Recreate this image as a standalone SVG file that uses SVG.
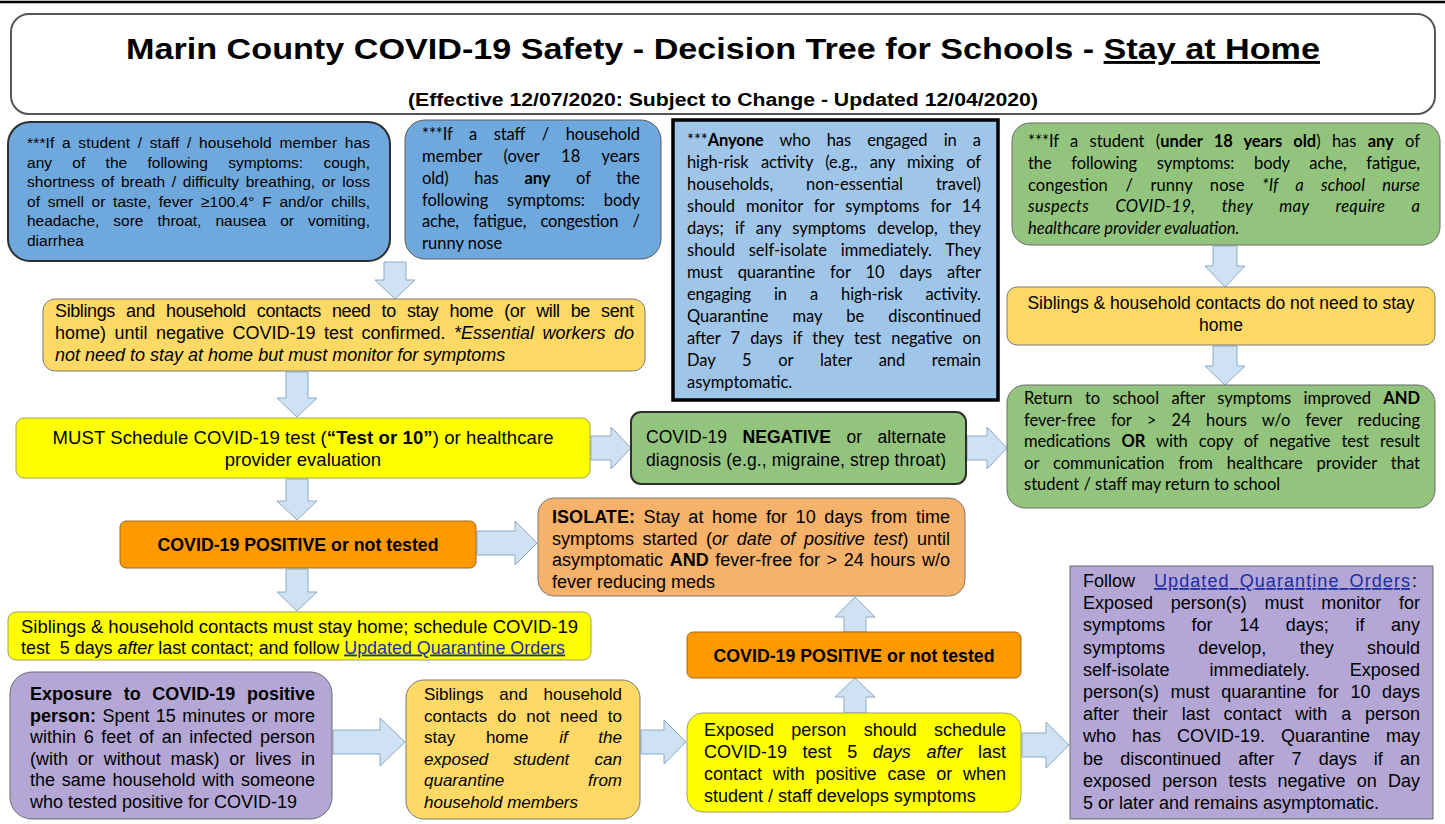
<svg xmlns="http://www.w3.org/2000/svg" width="1445" height="824" viewBox="0 0 1445 824">
<defs><style>
.s{font-family:"Liberation Sans",Arial,sans-serif;fill:#000}
.c{font-family:Lato,"Open Sans",sans-serif;fill:#000}
.b{font-weight:bold}
.i{font-style:italic}
.u{text-decoration:underline}
.lk{fill:#1d2ea5;text-decoration:underline}
.arr{fill:#cfe2f3;stroke:#8ea8c3;stroke-width:1}
</style></defs>
<rect width="1445" height="824" fill="#fff"/>
<line x1="0" y1="2" x2="1445" y2="2" stroke="#000" stroke-width="2.5"/>

<g id="title">
<rect x="11" y="14" width="1424" height="100" rx="18" fill="#fff" stroke="#555" stroke-width="2"/>
<text class="s b" x="723" y="59" font-size="29" text-anchor="middle" textLength="1194" lengthAdjust="spacingAndGlyphs">Marin County COVID-19 Safety - Decision Tree for Schools - <tspan class="u">Stay at Home</tspan></text>
<text class="s b" x="723" y="106" font-size="18" text-anchor="middle" textLength="630" lengthAdjust="spacingAndGlyphs">(Effective 12/07/2020: Subject to Change - Updated 12/04/2020)</text>
</g>

<g id="connectors">
<path class="arr" d="M384 262 H406 V280 H415 L395 299 L375 280 H384 Z"/>
<path class="arr" d="M286 372 H308 V398 H317 L297 417 L277 398 H286 Z"/>
<path class="arr" d="M286 479 H308 V501 H317 L297 520 L277 501 H286 Z"/>
<path class="arr" d="M286 569 H308 V592 H317 L297 611 L277 592 H286 Z"/>
<path class="arr" d="M1213 246 H1237 V266 H1245 L1225 287 L1205 266 H1213 Z"/>
<path class="arr" d="M1213 346 H1237 V366 H1245 L1225 385 L1205 366 H1213 Z"/>
<path class="arr" d="M591 436 H611 V427 L631 448 L611 469 V460 H591 Z"/>
<path class="arr" d="M967 436 H987 V427 L1007 448 L987 469 V460 H967 Z"/>
<path class="arr" d="M477 531 H515 V521 L537 543 L515 565 V555 H477 Z"/>
<path class="arr" d="M333 730 H380 V718 L405 742 L380 766 V754 H333 Z"/>
<path class="arr" d="M641 730 H664 V720 L686 742 L664 764 V754 H641 Z"/>
<path class="arr" d="M1022 733 H1046 V722 L1069 745 L1046 768 V757 H1022 Z"/>
<path class="arr" d="M844 632 V617 H835 L855 597 L875 617 H866 V632 Z"/>
<path class="arr" d="M844 713 V697 H835 L855 678 L875 697 H866 V713 Z"/>
</g>

<g id="n-symptoms-any">
<rect x="8" y="122" width="382" height="139" rx="22" fill="#6fa8dc" stroke="#2e2e2e" stroke-width="2"/>
<g class="s" font-size="15.5">
<text x="27" y="148" textLength="343" lengthAdjust="spacing" word-spacing="3">***If a student / staff / household member has</text>
<text x="27" y="167.6" textLength="343" lengthAdjust="spacing" word-spacing="16">any of the following symptoms: cough,</text>
<text x="27" y="187.2" textLength="343" lengthAdjust="spacing" word-spacing="2.2">shortness of breath / difficulty breathing, or loss</text>
<text x="27" y="206.8" textLength="343" lengthAdjust="spacing" word-spacing="3.4">of smell or taste, fever ≥100.4° F and/or chills,</text>
<text x="27" y="226.4" textLength="343" lengthAdjust="spacing" word-spacing="9.7">headache, sore throat, nausea or vomiting,</text>
<text x="27" y="246">diarrhea</text>
</g>
</g>

<g id="n-staff-symptoms">
<rect x="405" y="120" width="256" height="139" rx="20" fill="#6fa8dc" stroke="#5a5a5a" stroke-width="1"/>
<g class="c" font-size="16.5">
<text x="422" y="140" textLength="218" lengthAdjust="spacing" word-spacing="12.6">***If a staff / household</text>
<text x="422" y="162" textLength="218" lengthAdjust="spacing" word-spacing="17.2">member (over 18 years</text>
<text x="422" y="184" textLength="218" lengthAdjust="spacing" word-spacing="21.7">old) has <tspan class="b">any</tspan> of the</text>
<text x="422" y="205.5" textLength="218" lengthAdjust="spacing" word-spacing="14.7">following symptoms: body</text>
<text x="422" y="227" textLength="218" lengthAdjust="spacing" word-spacing="10.2">ache, fatigue, congestion /</text>
<text x="422" y="249">runny nose</text>
</g>
</g>

<g id="n-high-risk">
<rect x="673" y="120" width="325" height="280" fill="#9fc5e8" stroke="#000" stroke-width="3.5"/>
<g class="c" font-size="16.5">
<text x="687" y="145.5" textLength="294" lengthAdjust="spacing" word-spacing="12.1">***<tspan class="b">Anyone</tspan> who has engaged in a</text>
<text x="687" y="167.5" textLength="294" lengthAdjust="spacing" word-spacing="8.2">high-risk activity (e.g., any mixing of</text>
<text x="687" y="189.5" textLength="294" lengthAdjust="spacing" word-spacing="28.7">households, non-essential travel)</text>
<text x="687" y="211.5" textLength="294" lengthAdjust="spacing" word-spacing="6.8">should monitor for symptoms for 14</text>
<text x="687" y="233.5" textLength="294" lengthAdjust="spacing" word-spacing="7.3">days; if any symptoms develop, they</text>
<text x="687" y="255.5" textLength="294" lengthAdjust="spacing" word-spacing="9.5">should self-isolate immediately. They</text>
<text x="687" y="277.5" textLength="294" lengthAdjust="spacing" word-spacing="10.8">must quarantine for 10 days after</text>
<text x="687" y="299.5" textLength="294" lengthAdjust="spacing" word-spacing="19">engaging in a high-risk activity.</text>
<text x="687" y="321.5" textLength="294" lengthAdjust="spacing" word-spacing="19.9">Quarantine may be discontinued</text>
<text x="687" y="343.5" textLength="294" lengthAdjust="spacing" word-spacing="6.2">after 7 days if they test negative on</text>
<text x="687" y="365.5" textLength="294" lengthAdjust="spacing" word-spacing="22.5">Day 5 or later and remain</text>
<text x="687" y="387.5">asymptomatic.</text>
</g>
</g>

<g id="n-student-mild">
<rect x="1012" y="123" width="428" height="122" rx="18" fill="#93c47d" stroke="#6b6b6b" stroke-width="1"/>
<g class="c" font-size="16.5">
<text x="1028" y="147" textLength="392" lengthAdjust="spacing" word-spacing="7.2">***If a student (<tspan class="b">under 18 years old</tspan>) has <tspan class="b">any</tspan> of</text>
<text x="1028" y="169" textLength="392" lengthAdjust="spacing" word-spacing="15.6">the following symptoms: body ache, fatigue,</text>
<text x="1028" y="190.5" textLength="392" lengthAdjust="spacing" word-spacing="13.3">congestion / runny nose <tspan class="i">*If a school nurse</tspan></text>
<text class="c i" x="1028" y="212" textLength="392" lengthAdjust="spacing" word-spacing="22.2">suspects COVID-19, they may require a</text>
<text class="c i" x="1028" y="234">healthcare provider evaluation.</text>
</g>
</g>

<g id="n-siblings-no-stay">
<rect x="1007" y="287" width="428" height="58" rx="10" fill="#ffd966" stroke="#7a7a7a" stroke-width="1"/>
<text class="s" x="1221" y="308.5" font-size="17.5" text-anchor="middle">Siblings &amp; household contacts do not need to stay</text>
<text class="s" x="1221" y="330.5" font-size="17.5" text-anchor="middle">home</text>
</g>

<g id="n-return">
<rect x="1007" y="385" width="428" height="123" rx="18" fill="#93c47d" stroke="#6b6b6b" stroke-width="1"/>
<g class="c" font-size="16.5">
<text x="1024" y="404" textLength="396" lengthAdjust="spacing" word-spacing="8.2">Return to school after symptoms improved <tspan class="b">AND</tspan></text>
<text x="1024" y="425.5" textLength="396" lengthAdjust="spacing" word-spacing="11">fever-free for &gt; 24 hours w/o fever reducing</text>
<text x="1024" y="447" textLength="396" lengthAdjust="spacing" word-spacing="7">medications <tspan class="b">OR</tspan> with copy of negative test result</text>
<text x="1024" y="468.5" textLength="396" lengthAdjust="spacing" word-spacing="9.6">or communication from healthcare provider that</text>
<text x="1024" y="490">student / staff may return to school</text>
</g>
</g>

<g id="n-siblings-stay">
<rect x="43" y="299" width="602" height="72" rx="12" fill="#ffd966" stroke="#7a7a7a" stroke-width="1"/>
<g class="s" font-size="18">
<text x="55" y="317" textLength="579" lengthAdjust="spacing" word-spacing="6.5">Siblings and household contacts need to stay home (or will be sent</text>
<text x="55" y="339" textLength="579" lengthAdjust="spacing" word-spacing="3.5">home) until negative COVID-19 test confirmed. <tspan class="i">*Essential workers do</tspan></text>
<text class="s i" x="55" y="361">not need to stay at home but must monitor for symptoms</text>
</g>
</g>

<g id="n-must-test">
<rect x="16" y="418" width="574" height="60" rx="8" fill="#ffff00" stroke="#a0a070" stroke-width="1"/>
<text class="s" x="303" y="443.5" font-size="18.5" text-anchor="middle" textLength="501" lengthAdjust="spacing">MUST Schedule COVID-19 test (<tspan class="b">“Test or 10”</tspan>) or healthcare</text>
<text class="s" x="303" y="466" font-size="18.5" text-anchor="middle">provider evaluation</text>
</g>

<g id="n-negative">
<rect x="631" y="412" width="335" height="72" rx="10" fill="#93c47d" stroke="#2e2e2e" stroke-width="2"/>
<text class="s" x="646" y="443" font-size="17.5" textLength="300" lengthAdjust="spacing" word-spacing="10.5">COVID-19 <tspan class="b">NEGATIVE</tspan> or alternate</text>
<text class="s" x="646" y="466" font-size="17.5" textLength="300" lengthAdjust="spacing">diagnosis (e.g., migraine, strep throat)</text>
</g>

<g id="n-positive-1">
<rect x="120" y="521" width="356" height="47" rx="6" fill="#ff9900" stroke="#9a6a2a" stroke-width="1"/>
<text class="s b" x="298" y="551" font-size="18" text-anchor="middle" textLength="281" lengthAdjust="spacingAndGlyphs">COVID-19 POSITIVE or not tested</text>
</g>

<g id="n-isolate">
<rect x="538" y="498" width="427" height="98" rx="16" fill="#f6b26b" stroke="#7a7a7a" stroke-width="1"/>
<g class="s" font-size="18">
<text x="552" y="523" textLength="398" lengthAdjust="spacing" word-spacing="3.6"><tspan class="b">ISOLATE:</tspan> Stay at home for 10 days from time</text>
<text x="552" y="544.5" textLength="398" lengthAdjust="spacing" word-spacing="3.6">symptoms started (<tspan class="i">or date of positive test</tspan>) until</text>
<text x="552" y="566" textLength="398" lengthAdjust="spacing" word-spacing="1.6">asymptomatic <tspan class="b">AND</tspan> fever-free for &gt; 24 hours w/o</text>
<text x="552" y="587.5">fever reducing meds</text>
</g>
</g>

<g id="n-siblings-must-stay">
<rect x="8" y="612" width="583" height="48" rx="8" fill="#ffff00" stroke="#a0a070" stroke-width="1"/>
<g class="s" font-size="18.5">
<text x="21" y="632.5" textLength="557" lengthAdjust="spacing">Siblings &amp; household contacts must stay home; schedule COVID-19</text>
<text x="21" y="653.5" textLength="544" lengthAdjust="spacingAndGlyphs">test&#160; 5 days <tspan class="i">after</tspan> last contact; and follow <tspan class="lk">Updated Quarantine Orders</tspan></text>
</g>
</g>

<g id="n-exposure">
<rect x="10" y="672" width="322" height="147" rx="22" fill="#b4a7d6" stroke="#6b6b6b" stroke-width="1"/>
<g class="s" font-size="18">
<text class="s b" x="30" y="700" textLength="285" lengthAdjust="spacing" word-spacing="6.7">Exposure to COVID-19 positive</text>
<text x="30" y="721.5" textLength="285" lengthAdjust="spacing" word-spacing="1.4"><tspan class="b">person:</tspan> Spent 15 minutes or more</text>
<text x="30" y="743" textLength="285" lengthAdjust="spacing" word-spacing="2.7">within 6 feet of an infected person</text>
<text x="30" y="764.5" textLength="285" lengthAdjust="spacing" word-spacing="4.8">(with or without mask) or lives in</text>
<text x="30" y="786" textLength="285" lengthAdjust="spacing" word-spacing="1.7">the same household with someone</text>
<text x="30" y="807.5">who tested positive for COVID-19</text>
</g>
</g>

<g id="n-siblings-quarantine">
<rect x="406" y="680" width="234" height="139" rx="18" fill="#ffd966" stroke="#7a7a7a" stroke-width="1"/>
<g class="s" font-size="17">
<text x="424" y="700" textLength="198" lengthAdjust="spacing" word-spacing="11.1">Siblings and household</text>
<text x="424" y="721.5" textLength="198" lengthAdjust="spacing" word-spacing="5.3">contacts do not need to</text>
<text x="424" y="743" textLength="198" lengthAdjust="spacing" word-spacing="26">stay home <tspan class="i">if the</tspan></text>
<text class="s i" x="424" y="764.5" textLength="198" lengthAdjust="spacing" word-spacing="20.5">exposed student can</text>
<text class="s i" x="424" y="786" textLength="198" lengthAdjust="spacing" word-spacing="79">quarantine from</text>
<text class="s i" x="424" y="807.5">household members</text>
</g>
</g>

<g id="n-exposed-test">
<rect x="687" y="713" width="334" height="99" rx="16" fill="#ffff00" stroke="#a0a070" stroke-width="1"/>
<g class="s" font-size="18">
<text x="704" y="735.5" textLength="302" lengthAdjust="spacing" word-spacing="12.3">Exposed person should schedule</text>
<text x="704" y="757.5" textLength="302" lengthAdjust="spacing" word-spacing="10.6">COVID-19 test 5 <tspan class="i">days after</tspan> last</text>
<text x="704" y="779.5" textLength="302" lengthAdjust="spacing" word-spacing="5.8">contact with positive case or when</text>
<text x="704" y="802">student / staff develops symptoms</text>
</g>
</g>

<g id="n-positive-2">
<rect x="687" y="632" width="334" height="46" rx="6" fill="#ff9900" stroke="#9a6a2a" stroke-width="1"/>
<text class="s b" x="854" y="661.5" font-size="18" text-anchor="middle" textLength="281" lengthAdjust="spacingAndGlyphs">COVID-19 POSITIVE or not tested</text>
</g>

<g id="n-quarantine-orders">
<rect x="1070" y="566" width="363" height="253" fill="#b4a7d6" stroke="#6b6b6b" stroke-width="1"/>
<g class="s" font-size="18">
<text x="1083" y="587">Follow</text>
<text class="s lk" x="1154" y="587" textLength="256" lengthAdjust="spacing" word-spacing="4">Updated Quarantine Orders</text>
<text x="1412" y="587">:</text>
<text x="1083" y="609.2" textLength="337" lengthAdjust="spacing" word-spacing="12.7">Exposed person(s) must monitor for</text>
<text x="1083" y="631.4" textLength="337" lengthAdjust="spacing" word-spacing="21.6">symptoms for 14 days; if any</text>
<text x="1083" y="653.6" textLength="337" lengthAdjust="spacing" word-spacing="28.3">symptoms develop, they should</text>
<text x="1083" y="675.8" textLength="337" lengthAdjust="spacing" word-spacing="35">self-isolate immediately. Exposed</text>
<text x="1083" y="698" textLength="337" lengthAdjust="spacing" word-spacing="6.6">person(s) must quarantine for 10 days</text>
<text x="1083" y="720.2" textLength="337" lengthAdjust="spacing" word-spacing="8.8">after their last contact with a person</text>
<text x="1083" y="742.4" textLength="337" lengthAdjust="spacing" word-spacing="11">who has COVID-19. Quarantine may</text>
<text x="1083" y="764.6" textLength="337" lengthAdjust="spacing" word-spacing="12.2">be discontinued after 7 days if an</text>
<text x="1083" y="786.8" textLength="337" lengthAdjust="spacing" word-spacing="6.2">exposed person tests negative on Day</text>
<text x="1083" y="809">5 or later and remains asymptomatic.</text>
</g>
</g>
</svg>
